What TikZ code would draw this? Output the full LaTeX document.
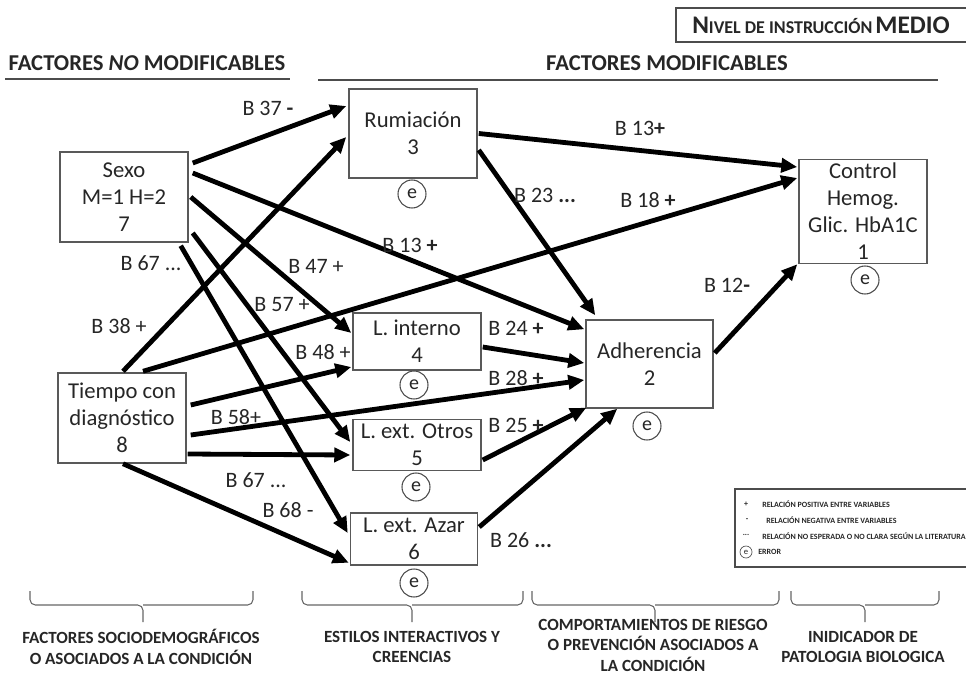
\documentclass[tikz,border=0pt]{standalone}
\usepackage{fontspec}
\setmainfont{Carlito}
\usetikzlibrary{arrows.meta,calc}
\begin{document}
\begin{tikzpicture}[x=0.75pt,y=-0.75pt,
    caja/.style={draw=black!65,line width=1.1pt,align=center,inner sep=0pt,text=black!85,
      font=\fontsize{17}{20.25}\selectfont},
    err/.style={draw=black!70,circle,line width=0.8pt,inner sep=0pt,minimum size=21pt,
      text=black!85,font=\fontsize{15}{18}\selectfont},
    flecha/.style={line width=3.6pt,-{Triangle[length=12pt,width=10.5pt]}},
    coef/.style={text=black!85,inner sep=1pt,font=\fontsize{16.5}{19}\selectfont},
    titulo/.style={text=black!85,font=\bfseries\fontsize{17}{20}\selectfont},
    grupo/.style={text=black!85,align=center,font=\bfseries\fontsize{12.8}{15.4}\selectfont},
    leyenda/.style={text=black!85,anchor=west,inner sep=0pt,font=\bfseries\fontsize{6}{7}\selectfont},
    llave/.style={draw=black!60,line width=0.8pt,rounded corners=4pt}]
\useasboundingbox (0,0) rectangle (966,675);

% encabezados
\draw[black!70,line width=1pt] (970,8) -- (676,8) -- (676,42) -- (970,42);
\node[text=black!85,inner sep=0pt] (nivel) at (821,25) {\bfseries{\fontsize{19}{21}\selectfont N}{\fontsize{13.5}{15}\selectfont IVEL DE INSTRUCCIÓN} {\fontsize{19}{21}\selectfont MEDIO}};
\node[titulo] (nomod) at (147,63) {FACTORES \textit{NO} MODIFICABLES};
\node[titulo] (mod) at (667,63) {FACTORES MODIFICABLES};
\draw[black!70,line width=1pt] (5,79) -- (290,79);
\draw[black!70,line width=1pt] (318,80) -- (938,80);

% variables
\node[caja,minimum width=96pt,minimum height=67.5pt] (sexo) at (124,197) {Sexo\\M=1 H=2\\7};
\node[caja,minimum width=96pt,minimum height=67.5pt] (tiempo) at (122,418) {Tiempo con\\diagnóstico\\8};
\node[caja,minimum width=96pt,minimum height=66.75pt] (rum) at (413,133.5) {Rumiación\\3};
\node[caja,minimum width=96pt,minimum height=42.75pt] (lint) at (417,341.5) {L. interno\\4};
\node[caja,minimum width=96pt,minimum height=38.25pt] (lotr) at (417,445) {L. ext. Otros\\5};
\node[caja,minimum width=95.25pt,minimum height=39pt] (lazar) at (414,539) {L. ext. Azar\\6};
\node[caja,minimum width=95.25pt,minimum height=66pt] (adh) at (649.5,364) {Adherencia\\2};
\node[caja,minimum width=96pt,minimum height=78pt] (ctrl) at (863,211.5) {Control\\Hemog.\\Glic. HbA1C\\1};

\node[err] (erum) at (412,194) {e};
\node[err] (elint) at (414,385) {e};
\node[err] (elotr) at (416,487) {e};
\node[err] (elazar) at (414,583) {e};
\node[err] (eadh) at (647,426) {e};
\node[err] (ectrl) at (865,280) {e};

% relaciones
\draw[flecha] ($(sexo.east)+(4,-34)$) -- ($(rum.west)+(-2,-27.5)$);
\draw[flecha] ($(tiempo.north)+(1,-1)$) -- ($(rum.west)+(-2,3.5)$);
\draw[flecha] ($(sexo.east)+(4,-24)$) -- ($(adh.north west)+(-1,10)$);
\draw[flecha] ($(sexo.east)+(2,0)$) -- ($(lint.west)+(-1,-8.5)$);
\draw[flecha] ($(sexo.east)+(4,36)$) -- ($(lotr.west)+(-2,-3)$);
\draw[flecha] ($(sexo.south east)+(-8,3)$) -- ($(lazar.west)+(-2,-6)$);
\draw[flecha] ($(tiempo.east)+(4,-13)$) -- ($(lint.west)+(-1,25.5)$);
\draw[flecha] ($(tiempo.east)+(4,17)$) -- ($(adh.west)+(-1,16)$);
\draw[flecha] ($(tiempo.east)+(1,36)$) -- ($(lotr.west)+(-2,10)$);
\draw[flecha] ($(tiempo.south)+(1,0)$) -- ($(lazar.south west)+(-1,-3)$);
\draw[flecha] ($(tiempo.north)+(21,-1)$) -- ($(ctrl.west)+(-1,-33.5)$);
\draw[flecha] ($(rum.east)+(1,0)$) -- ($(ctrl.west)+(-1,-44.5)$);
\draw[flecha] ($(rum.east)+(1,16.5)$) -- ($(adh.north west)+(10,-4)$);
\draw[flecha] ($(lint.east)+(1,5.5)$) -- ($(adh.west)+(-1,-1)$);
\draw[flecha] ($(lotr.east)+(1,15)$) -- ($(adh.south west)+(1,-1)$);
\draw[flecha] ($(lazar.east)+(1,-12)$) -- ($(adh.south west)+(32,0)$);
\draw[flecha] ($(adh.east)+(1,-11)$) -- ($(ctrl.south west)+(-1,0)$);

% coeficientes
\node[coef] (b37) at (268,108) {B 37 \textbf{-}};
\node[coef] (b67a) at (151,263) {B 67 ...};
\node[coef] (b47) at (316,266) {B 47 +};
\node[coef] (b57) at (282,305) {B 57 +};
\node[coef] (b38) at (119,326) {B 38 +};
\node[coef] (b48) at (323,352) {B 48 +};
\node[coef] (b58) at (236,417) {B 58+};
\node[coef] (b67b) at (256,480) {B 67 ...};
\node[coef] (b68) at (288,510) {B 68 -};
\node[coef] (b13a) at (410,245) {B 13 \textbf{+}};
\node[coef] (b23) at (545,195) {B 23 \textbf{...}};
\node[coef] (b13b) at (640,128) {B 13\textbf{+}};
\node[coef] (b18) at (648,200) {B 18 \textbf{+}};
\node[coef] (b12) at (727,285) {B 12\textbf{-}};
\node[coef] (b24) at (516,328) {B 24 \textbf{+}};
\node[coef] (b28) at (516,378) {B 28 \textbf{+}};
\node[coef] (b25) at (516,425) {B 25 \textbf{+}};
\node[coef] (b26) at (521,540) {B 26 \textbf{...}};

% leyenda
\draw[black!70,line width=1pt] (970,489) -- (735,489) -- (735,567) -- (970,567);
\node[leyenda,anchor=center] (sim1) at (746,504) {+};
\node[leyenda,anchor=center] (sim2) at (747,520) {-};
\node[leyenda,anchor=center] (sim3) at (746,535) {...};
\node[draw=black!70,circle,line width=0.5pt,inner sep=0pt,minimum size=9pt,
  font=\fontsize{6.5}{7}\selectfont,text=black!85] (sim4) at (746,552) {e};
\node[leyenda] (ley1) at (762,504) {RELACIÓN POSITIVA ENTRE VARIABLES};
\node[leyenda] (ley2) at (766,520) {RELACIÓN NEGATIVA ENTRE VARIABLES};
\node[leyenda] (ley3) at (762,536) {RELACIÓN NO ESPERADA O NO CLARA SEGÚN LA LITERATURA};
\node[leyenda] (ley4) at (758,552) {ERROR};

% grupos
\foreach \a/\m/\b in {30/143/253, 302/412/523, 532/655/779, 791/865/939}
  \draw[llave] (\a,591) -- (\a,605) -- (\m,605) -- (\m,622) (\m,605) -- (\b,605) -- (\b,591);
\node[grupo] (g1) at (141,647) {FACTORES SOCIODEMOGRÁFICOS\\O ASOCIADOS A LA CONDICIÓN};
\node[grupo] (g2) at (412,647) {ESTILOS INTERACTIVOS Y\\CREENCIAS};
\node[grupo] (g3) at (653,645) {COMPORTAMIENTOS DE RIESGO\\O PREVENCIÓN ASOCIADOS A\\LA CONDICIÓN};
\node[grupo] (g4) at (863,647) {INIDICADOR DE\\PATOLOGIA BIOLOGICA};
\end{tikzpicture}
\end{document}
